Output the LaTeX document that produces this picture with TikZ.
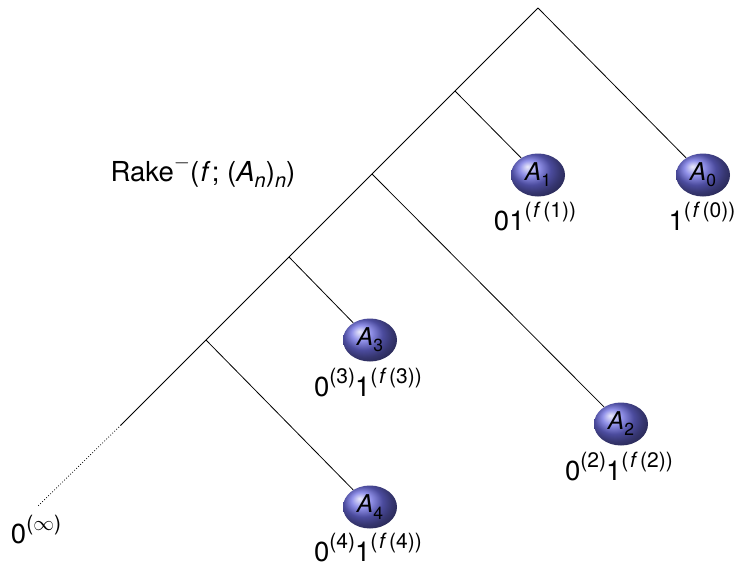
\documentclass[tikz,border=0pt]{standalone}
\usepackage{fontspec}
\setmainfont{TeX Gyre Heros}
\usetikzlibrary{shapes.geometric}
\definecolor{ballblue}{RGB}{108,108,225}
\newcommand{\sps}[1]{\raisebox{0.45em}{\fontsize{21}{24}\selectfont #1}}
\newcommand{\sbs}[1]{\raisebox{-0.22em}{\fontsize{20}{23}\selectfont #1}}
\newcommand{\bsub}[1]{\raisebox{-0.25em}{\fontsize{17.5}{20}\selectfont #1}}
\newcommand{\ff}{\kern0.08em\textit{f}\kern0.12em}
\tikzset{
  edge/.style={line width=0.8pt, black},
  ballnode/.style={ellipse, minimum width=54pt, minimum height=43pt, inner sep=0pt, ball color=ballblue, font=\fontsize{24.5}{29}\selectfont},
  lbl/.style={font=\fontsize{27.5}{32}\selectfont, inner sep=0pt}
}
\begin{document}
\begin{tikzpicture}[x=1pt,y=-1pt]
\useasboundingbox (0,0) rectangle (739,568);
\coordinate (r) at (538,8);
\coordinate (s1) at (455,91);
\coordinate (s2) at (372,174);
\coordinate (s3) at (289,257);
\coordinate (s4) at (206,340);
\coordinate (s5) at (121,425);
\coordinate (e) at (37,507);
\node[ballnode] (A0) at (703,175) {\textit{A}\bsub{0}};
\node[ballnode] (A1) at (538,175) {\textit{A}\bsub{1}};
\node[ballnode] (A2) at (621,424) {\textit{A}\bsub{2}};
\node[ballnode] (A3) at (370,340) {\textit{A}\bsub{3}};
\node[ballnode] (A4) at (370,507) {\textit{A}\bsub{4}};
\draw[edge] (r) -- (s1) -- (s2) -- (s3) -- (s4) -- (s5);
\draw[edge, dotted] (s5) -- (e);
\draw[edge] (r) -- (A0);
\draw[edge] (s1) -- (A1);
\draw[edge] (s2) -- (A2);
\draw[edge] (s3) -- (A3);
\draw[edge] (s4) -- (A4);
\node[lbl, anchor=base] (L0) at (702,230) {1\sps{(\ff(0))}};
\node[lbl, anchor=base] (L1) at (535,230) {01\sps{(\ff(1))}};
\node[lbl, anchor=base] (L2) at (619,480) {0\sps{(2)}1\sps{(\ff(2))}};
\node[lbl, anchor=base] (L3) at (368,396) {0\sps{(3)}1\sps{(\ff(3))}};
\node[lbl, anchor=base] (L4) at (368,561) {0\sps{(4)}1\sps{(\ff(4))}};
\node[lbl, anchor=base] (Linf) at (36,543) {0\sps{($\infty$)}};
\node[lbl, anchor=base] (rake) at (203,181) {Rake\sps{$-$}(\kern0.05em\textit{f}\kern0.05em; (\textit{A}\sbs{\textit{n}})\sbs{\textit{n}})};
\end{tikzpicture}
\end{document}
